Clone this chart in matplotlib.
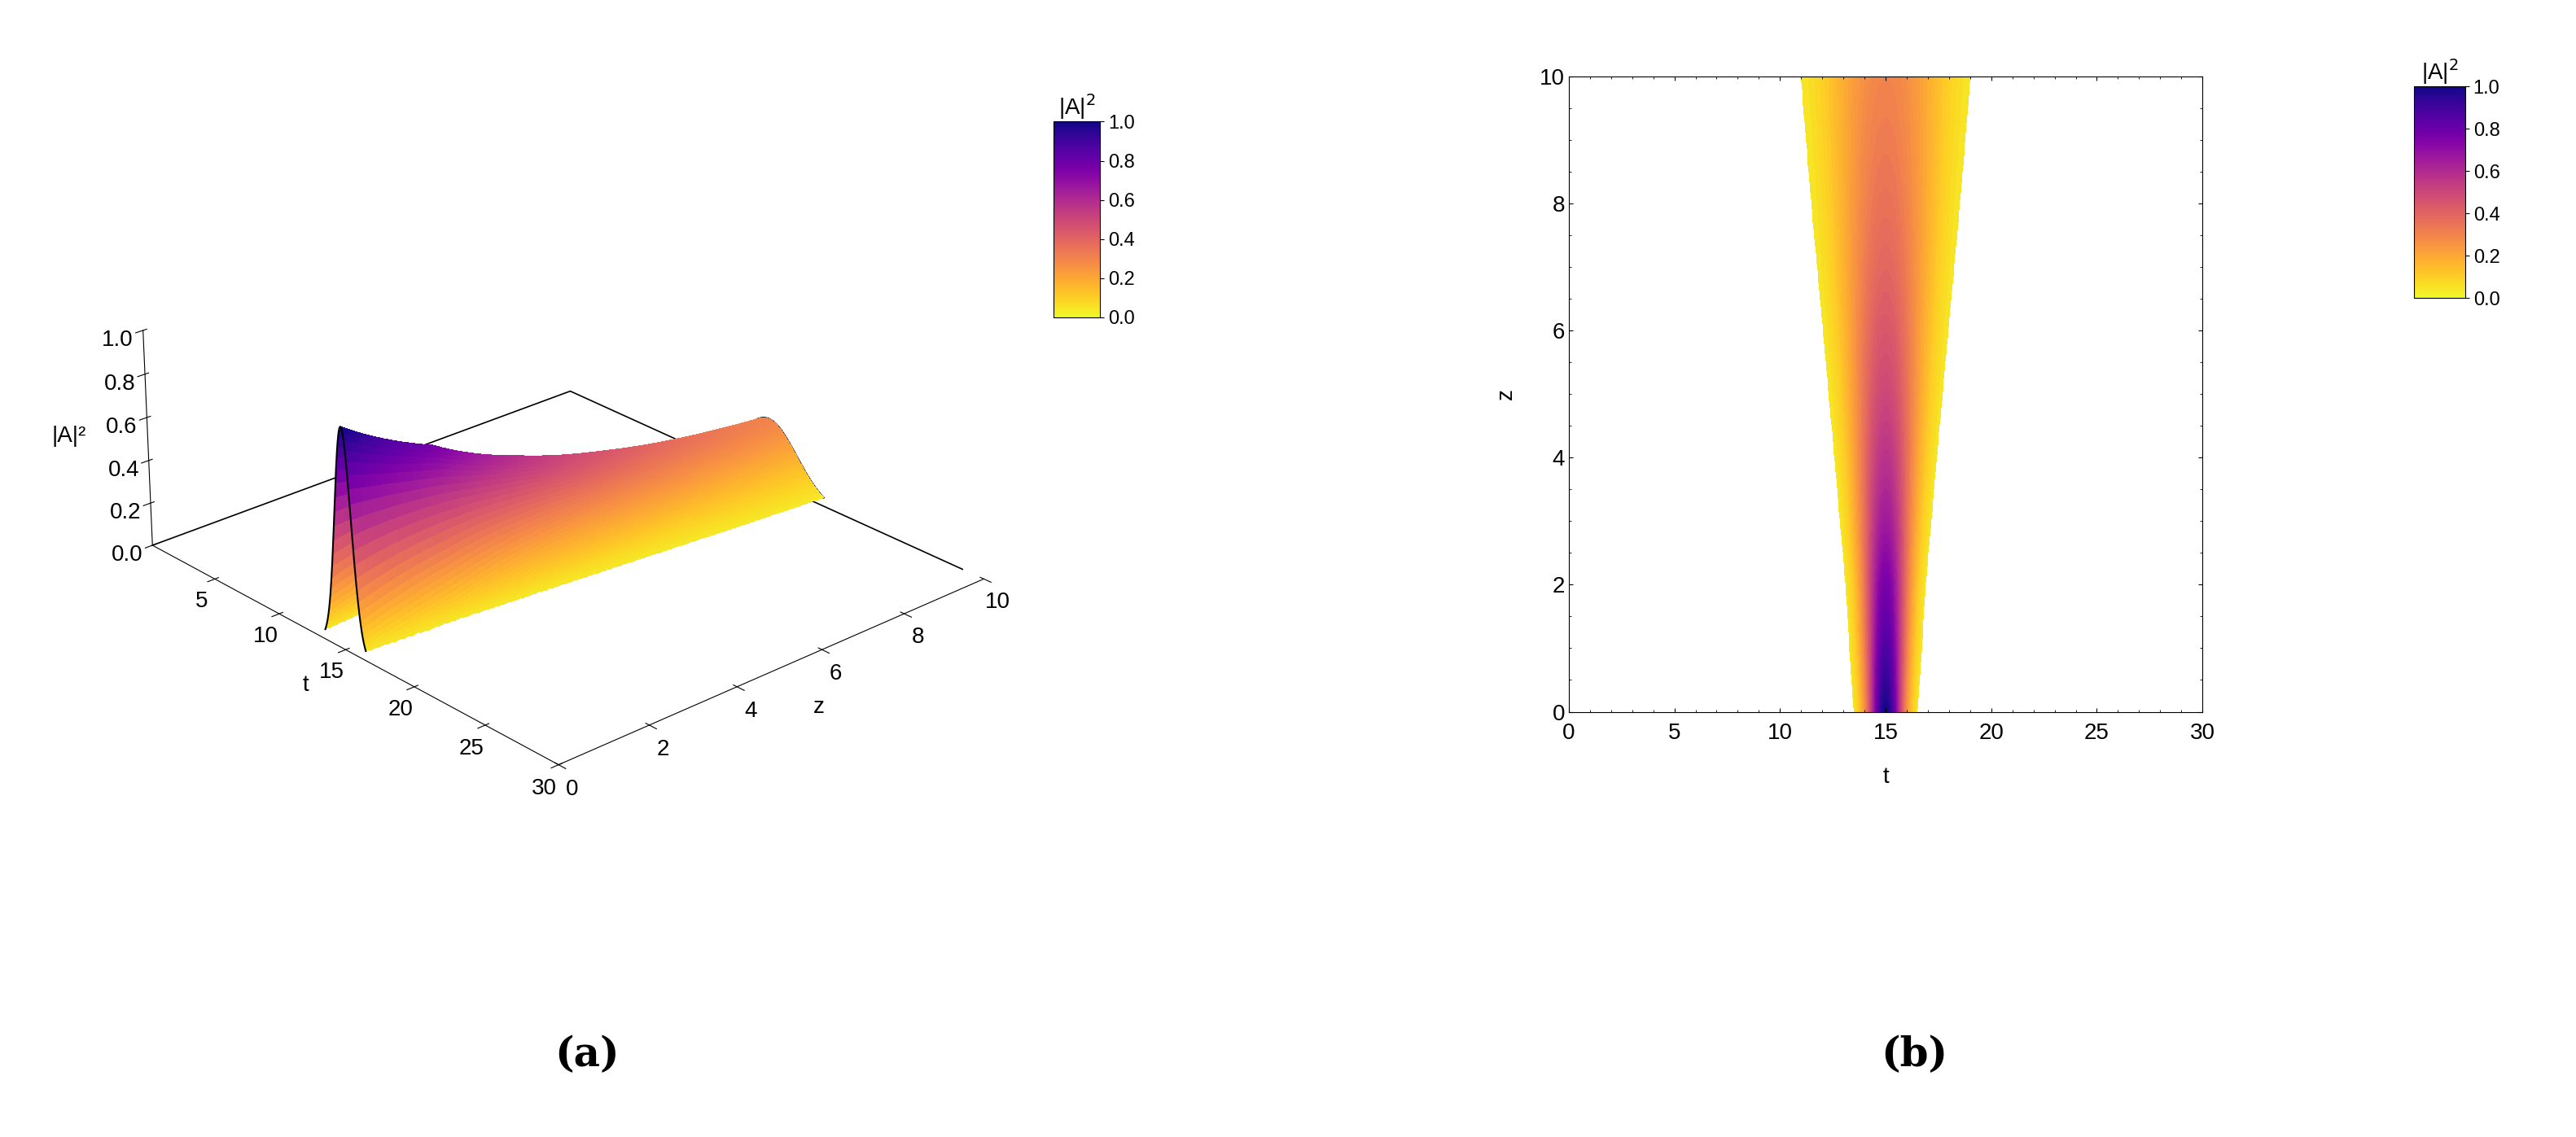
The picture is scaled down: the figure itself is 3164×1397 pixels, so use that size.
import numpy as np
import matplotlib
matplotlib.use("Agg")
import matplotlib.pyplot as plt

# values
z_samples = [0, 2, 4, 6, 8, 10]            # propagation distance
width_samples = [0.6, 0.78, 1.05, 1.35, 1.68, 2.0]  # rms width of pulse at each z
t_center = 15.0
t_ticks = [0, 5, 10, 15, 20, 25, 30]
z_ticks = [0, 2, 4, 6, 8, 10]
cb_ticks = [0.0, 0.2, 0.4, 0.6, 0.8, 1.0]

t = np.linspace(0, 30, 901)
z = np.linspace(0, 10, 201)
w = np.interp(z, z_samples, width_samples)
T, Z = np.meshgrid(t, z)
W = w[:, None]
I = (width_samples[0] / W) * np.exp(-((T - t_center) ** 2) / (2 * W ** 2))
thr = 0.04

cmap = plt.get_cmap("plasma_r")
plt.rcParams['font.family'] = ['Arial', 'Liberation Sans', 'DejaVu Sans']
plt.rcParams['font.size'] = 20

fig = plt.figure(figsize=(31.64, 13.97), dpi=100)

# (a) 3D
ax = fig.add_axes([-0.015, 0.23, 0.46, 0.72], projection='3d')
I3 = np.where(I < thr, np.nan, I)
ax.plot_surface(T, Z, I3, cmap=cmap, vmin=0, vmax=1, rstride=1, cstride=2,
                linewidth=0, antialiased=False)
ax.plot(t, np.zeros_like(t), I3[0], color='k', lw=1.5, zorder=10)
ax.plot(t, np.full_like(t, 10), I3[-1], color='k', lw=1.5)
# floor back edges of the box
ax.plot([0, 0, 30], [0, 10, 10], [0, 0, 0], color='k', lw=1.2)
ax.set_xlim(0, 30); ax.set_ylim(0, 10); ax.set_zlim(0, 1)
ax.set_xticks(t_ticks[1:]); ax.set_yticks(z_ticks); ax.set_zticks(cb_ticks)
ax.set_xlabel('t', labelpad=12); ax.set_ylabel('z', labelpad=12)
ax.set_zlabel('|A|²', labelpad=15)
ax.view_init(elev=25, azim=-42)
ax.set_box_aspect((1.35, 1.25, 0.52), zoom=1.04)
ax.grid(False)
try:
    ax.zaxis.set_ticks_position('lower')
    ax.zaxis.set_label_position('lower')
except Exception:
    pass
for a in (ax.xaxis, ax.yaxis, ax.zaxis):
    a.pane.fill = False
    a.pane.set_edgecolor('none')

cax1 = fig.add_axes([0.409, 0.721, 0.018, 0.172])
sm = plt.cm.ScalarMappable(cmap=cmap, norm=plt.Normalize(0, 1))
cb1 = fig.colorbar(sm, cax=cax1, ticks=cb_ticks)
cb1.ax.tick_params(labelsize=17)
cax1.set_title('|A|$^2$', fontsize=20)

# (b) 2D
ax2 = fig.add_axes([0.609, 0.374, 0.246, 0.559])
Im = np.ma.masked_less(I, thr)
ax2.contourf(T, Z, Im, levels=np.linspace(thr, 1, 60), cmap=cmap, vmin=0, vmax=1)
ax2.set_xlim(0, 30); ax2.set_ylim(0, 10)
ax2.set_xticks(t_ticks); ax2.set_yticks(z_ticks)
ax2.set_xlabel('t', labelpad=20); ax2.set_ylabel('z', labelpad=20)
ax2.minorticks_on()
ax2.tick_params(which='both', direction='in', top=True, right=True)
ax2.tick_params(axis='x', pad=10)

cax2 = fig.add_axes([0.937, 0.738, 0.02, 0.186])
cb2 = fig.colorbar(sm, cax=cax2, ticks=cb_ticks)
cb2.ax.tick_params(labelsize=17)
cax2.set_title('|A|$^2$', fontsize=20)

fig.text(0.228, 0.062, '(a)', fontsize=36, ha='center', family='DejaVu Serif', weight='bold')
fig.text(0.743, 0.062, '(b)', fontsize=36, ha='center', family='DejaVu Serif', weight='bold')
fig.savefig('out.png', dpi=100)
